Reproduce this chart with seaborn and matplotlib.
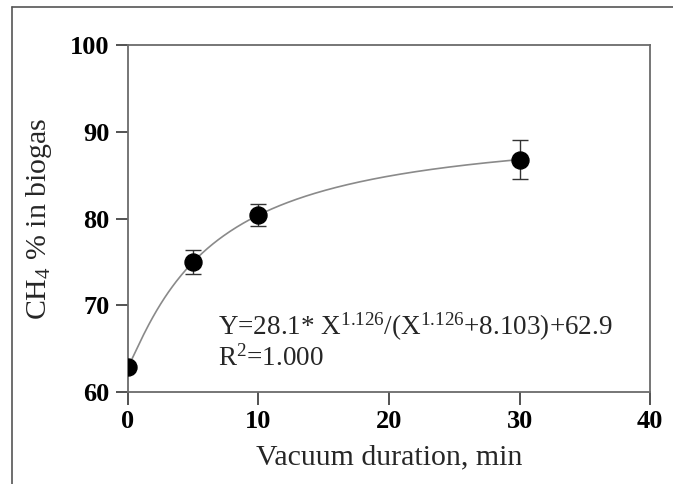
import numpy as np
import pandas as pd
import seaborn as sns
import matplotlib.pyplot as plt
from matplotlib.lines import Line2D

# measured points
duration = [0, 5, 10, 30]
ch4 = [62.9, 75.0, 80.4, 86.8]
ch4_err = [0.0, 1.4, 1.3, 2.2]

# fitted model Y = a*X^n/(X^n + k) + b (values from the figure)
fit_a, fit_n, fit_k, fit_b = 28.1, 1.126, 8.103, 62.9

sns.set_style('ticks')
plt.rcParams['font.family'] = ['Liberation Serif', 'DejaVu Serif']
plt.rcParams['mathtext.fontset'] = 'custom'
plt.rcParams['mathtext.rm'] = 'Liberation Serif'
plt.rcParams['mathtext.it'] = 'Liberation Serif:italic'
plt.rcParams.update({
    'xtick.bottom': True, 'ytick.left': True,
    'xtick.major.size': 9, 'ytick.major.size': 9,
    'xtick.major.width': 1.3, 'ytick.major.width': 1.3,
    'xtick.color': '#444444', 'ytick.color': '#444444',
    'xtick.labelcolor': 'black', 'ytick.labelcolor': 'black',
})

data = pd.DataFrame({'Vacuum duration, min': duration, 'CH4': ch4})

x_fit = np.linspace(0, 30, 300)
y_fit = fit_a * x_fit ** fit_n / (x_fit ** fit_n + fit_k) + fit_b
curve = pd.DataFrame({'x': x_fit, 'y': y_fit})

fig = plt.figure(figsize=(6.73, 4.84), dpi=100)
ax = fig.add_axes([0.190, 0.190, 0.776, 0.717])

# 拟合曲线
sns.lineplot(data=curve, x='x', y='y', ax=ax, color='#8a8a8a', linewidth=1.2)

# 误差棒
ax.errorbar(duration, ch4, yerr=ch4_err, fmt='none', ecolor='#333333',
            elinewidth=1.0, capsize=6, capthick=1.0, zorder=3)

# 数据点
sns.scatterplot(data=data, x='Vacuum duration, min', y='CH4', ax=ax,
                color='black', s=150, edgecolor='black', zorder=4)

ax.set_xlim(0, 40)
ax.set_ylim(60, 100)
ax.set_xticks([0, 10, 20, 30, 40])
ax.set_yticks([60, 70, 80, 90, 100])
ax.set_xlabel('Vacuum duration, min', fontsize=21.5, labelpad=8)
ax.set_ylabel('CH$_4$ % in biogas', fontsize=21.5, labelpad=12)

for lbl in ax.get_xticklabels() + ax.get_yticklabels():
    lbl.set_fontweight('bold')
    lbl.set_fontsize(19)

for side in ['left', 'bottom', 'top', 'right']:
    ax.spines[side].set_visible(True)
    ax.spines[side].set_color('#6b6b6b')
    ax.spines[side].set_linewidth(1.3)
ax.tick_params(axis='both', which='major', bottom=True, left=True,
               direction='out', length=9, width=1.3,
               color='#444444', pad=4)

ax.text(6.9, 66.6, 'Y=28.1* X$^{1.126}$/(X$^{1.126}$+8.103)+62.9',
        fontsize=19.5, ha='left', va='baseline')
ax.text(6.9, 63.0, 'R$^{2}$=1.000', fontsize=19.5, ha='left', va='baseline')

# 外框
fig.add_artist(Line2D([12 / 673, 12 / 673], [0, 1 - 7 / 484],
                      transform=fig.transFigure, color='#555555', linewidth=1.2))
fig.add_artist(Line2D([12 / 673, 1], [1 - 7 / 484, 1 - 7 / 484],
                      transform=fig.transFigure, color='#555555', linewidth=1.2))

fig.savefig('out.png', dpi=100)
